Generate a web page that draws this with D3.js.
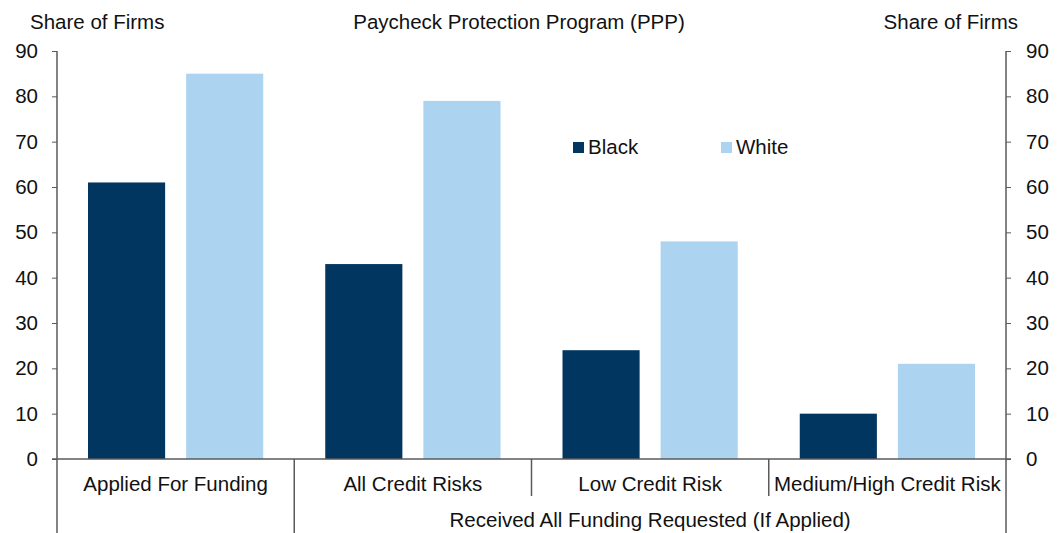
<!DOCTYPE html>
<html>
<head>
<meta charset="utf-8">
<script src="https://cdn.jsdelivr.net/npm/d3@7"></script>
<style>
body { margin: 0; background: #fff; }
text { font-family: "Liberation Sans", Arial, sans-serif; fill: #111; }
</style>
</head>
<body>
<div id="chart-area"></div>
<script>
let categories = ["Applied For Funding", "All Credit Risks", "Low Credit Risk", "Medium/High Credit Risk"];
let seriesNames = ["Black", "White"];
let blackValues = [61, 43, 24, 10];
let whiteValues = [85, 79, 48, 21];
let yTicks = [0, 10, 20, 30, 40, 50, 60, 70, 80, 90];
let groupLabel = "Received All Funding Requested (If Applied)";
let colors = ["#00365f", "#acd3ef"];

let width = 1062, height = 533;
let plotLeft = 57, plotRight = 1006, plotTop = 51, plotBottom = 459;
let axisColor = "#5a5a5a";
let fontSize = "20.5px";

let svg = d3.select("#chart-area").append("svg")
	.attr("width", width)
	.attr("height", height);

let data = categories.map((c, i) => {
	return {name: c, values: [blackValues[i], whiteValues[i]]};
});

let x = d3.scaleBand()
	.domain(categories)
	.range([plotLeft, plotRight]);

let x1 = d3.scaleBand()
	.domain(seriesNames)
	.range([0, x.bandwidth()])
	.paddingInner(0.214)
	.paddingOuter(0.316);

let y = d3.scaleLinear()
	.domain([0, 90])
	.range([plotBottom, plotTop]);

// bars
let groups = svg.selectAll("g.grp").data(data).enter()
	.append("g")
	.attr("class", "grp")
	.attr("transform", (d) => "translate(" + x(d.name) + ",0)");

groups.selectAll("rect")
	.data((d) => d.values.map((v, i) => ({s: seriesNames[i], v: v, i: i})))
	.enter()
	.append("rect")
	.attr("x", (d) => x1(d.s))
	.attr("y", (d) => y(d.v))
	.attr("width", x1.bandwidth())
	.attr("height", (d) => plotBottom - y(d.v))
	.attr("fill", (d) => colors[d.i]);

// axes
let yLeft = d3.axisLeft(y).tickValues(yTicks).tickSize(5).tickPadding(14).tickSizeOuter(0);
let yRight = d3.axisRight(y).tickValues(yTicks).tickSize(5).tickPadding(15).tickSizeOuter(0);

let gl = svg.append("g").attr("transform", "translate(" + plotLeft + ",0)").call(yLeft);
let gr = svg.append("g").attr("transform", "translate(" + plotRight + ",0)").call(yRight);
[gl, gr].forEach((g) => {
	g.select(".domain").remove();
	g.selectAll("line").attr("stroke", axisColor);
	g.selectAll("text").style("font-size", fontSize).attr("fill", "#111")
		.style("font-family", "Liberation Sans, Arial, sans-serif");
});

// vertical axis lines extending into label area
svg.append("line").attr("x1", plotLeft).attr("x2", plotLeft).attr("y1", plotTop).attr("y2", height)
	.attr("stroke", axisColor).attr("stroke-width", 1.5);
svg.append("line").attr("x1", plotRight).attr("x2", plotRight).attr("y1", plotTop).attr("y2", height)
	.attr("stroke", axisColor).attr("stroke-width", 1.5);

// baseline
svg.append("line").attr("x1", plotLeft - 5).attr("x2", plotRight + 5).attr("y1", plotBottom).attr("y2", plotBottom)
	.attr("stroke", axisColor).attr("stroke-width", 1.5);

// category dividers
categories.slice(1).forEach((c, i) => {
	svg.append("line")
		.attr("x1", x(c)).attr("x2", x(c))
		.attr("y1", plotBottom)
		.attr("y2", i === 0 ? height : 496)
		.attr("stroke", axisColor).attr("stroke-width", 1.5);
});

// category labels
svg.selectAll("text.cat").data(categories).enter()
	.append("text")
	.attr("class", "cat")
	.attr("x", (d) => x(d) + x.bandwidth() / 2)
	.attr("y", 491)
	.attr("text-anchor", "middle")
	.style("font-size", fontSize)
	.text((d) => d);

svg.append("text")
	.attr("x", (x(categories[1]) + plotRight) / 2)
	.attr("y", 527)
	.attr("text-anchor", "middle")
	.style("font-size", fontSize)
	.text(groupLabel);

// titles
svg.append("text").attr("x", 30).attr("y", 29).style("font-size", fontSize).text("Share of Firms");
svg.append("text").attr("x", 1018).attr("y", 29).attr("text-anchor", "end").style("font-size", fontSize).text("Share of Firms");
svg.append("text").attr("x", 519).attr("y", 29).attr("text-anchor", "middle").style("font-size", fontSize)
	.text("Paycheck Protection Program (PPP)");

// legend
let legendX = [573, 721];
seriesNames.forEach((s, i) => {
	svg.append("rect").attr("x", legendX[i]).attr("y", 142).attr("width", 11).attr("height", 11)
		.attr("fill", colors[i]);
	svg.append("text").attr("x", legendX[i] + 15).attr("y", 154).style("font-size", fontSize).text(s);
});
</script>
</body>
</html>
